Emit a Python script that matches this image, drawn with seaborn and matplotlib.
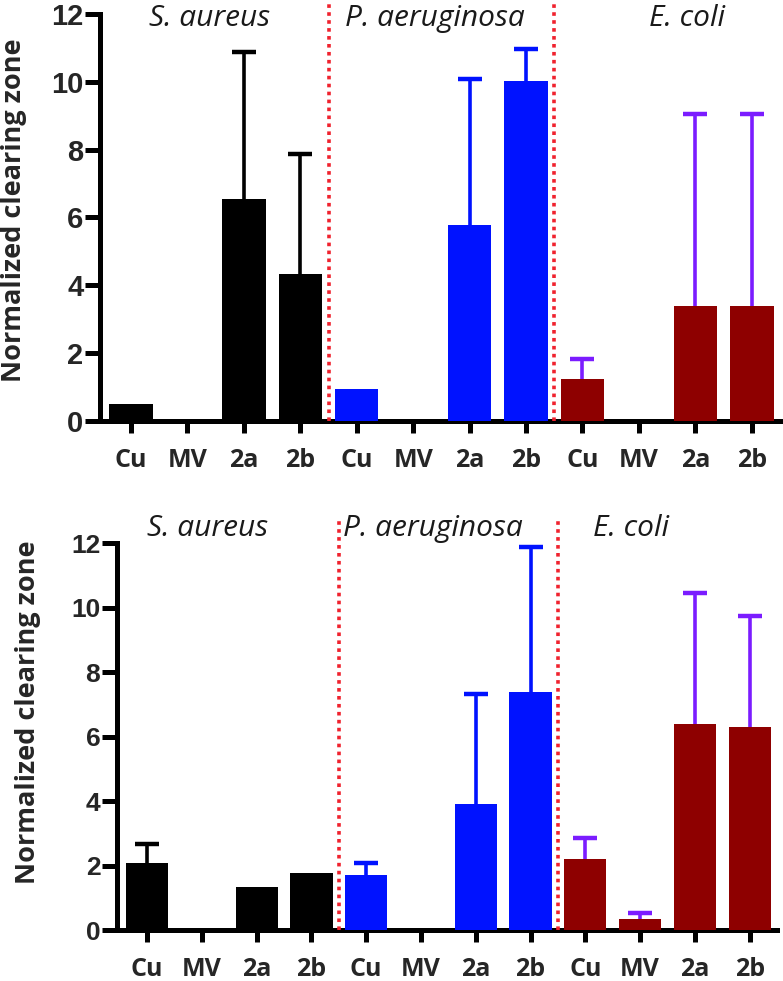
import numpy as np
import pandas as pd
import matplotlib
matplotlib.use("Agg")
import matplotlib.pyplot as plt
import seaborn as sns

# ---------------- data ----------------
species = ["S. aureus", "P. aeruginosa", "E. coli"]
compounds = ["Cu", "MV", "2a", "2b"]

top_values = [0.50, 0.0, 6.56, 4.32, 0.95, 0.0, 5.77, 10.03, 1.25, 0.0, 3.38, 3.38]
top_upper = [np.nan, np.nan, 10.88, 7.86, np.nan, np.nan, 10.09, 10.96, 1.84, np.nan, 9.06, 9.06]

bottom_values = [2.09, 0.0, 1.33, 1.76, 1.71, 0.0, 3.90, 7.40, 2.20, 0.34, 6.39, 6.31]
bottom_upper = [2.67, np.nan, np.nan, np.nan, 2.07, np.nan, 7.31, 11.88, 2.87, 0.52, 10.46, 9.75]

y_ticks = [0, 2, 4, 6, 8, 10, 12]
ylabel = "Normalized clearing zone"

bar_colors = {"S. aureus": "#000000", "P. aeruginosa": "#0012FF", "E. coli": "#8E0000"}
err_colors = {"S. aureus": "#000000", "P. aeruginosa": "#0012FF", "E. coli": "#7B1CFF"}

# ---------------- figure ----------------
sns.set_theme(style="ticks")
plt.rcParams["font.family"] = ["Liberation Sans", "DejaVu Sans"]

W, H = 783, 981
fig = plt.figure(figsize=(W / 100, H / 100), dpi=100)


def make_df(values, upper):
    rows = []
    i = 0
    for sp in species:
        for c in compounds:
            rows.append({"cat": f"{sp}|{c}", "species": sp, "compound": c,
                         "value": values[i], "upper": upper[i]})
            i += 1
    return pd.DataFrame(rows)


def draw_panel(ax, df, tick_fs, sep_top, label_y, label_xs, ylabel_xy):
    order = list(df["cat"])
    sns.barplot(data=df, x="cat", y="value", hue="species", order=order,
                hue_order=species, palette=bar_colors, dodge=False, width=0.77,
                saturation=1, legend=False, ax=ax, linewidth=0, zorder=3)
    pos = np.arange(len(order))
    for sp in species:
        m = (df["species"] == sp).values & ~np.isnan(df["upper"].values)
        if m.sum() == 0:
            continue
        v = df["value"].values[m]
        u = df["upper"].values[m]
        cont = ax.errorbar(pos[m], v, yerr=[np.zeros_like(v), u - v], fmt="none",
                           ecolor=err_colors[sp], elinewidth=2.6, capsize=8.5,
                           capthick=3.2, zorder=2)
        caplines = cont.lines[1]
        if len(caplines) == 2:
            caplines[0].set_visible(False)
    ax.set_xlim(-0.55, len(order) - 0.5)
    ax.set_ylim(0, 12)
    ax.set_yticks(y_ticks)
    ax.set_yticklabels([str(t) for t in y_ticks], fontsize=tick_fs,
                       fontweight="bold", family="Liberation Sans")
    ax.set_xticks(pos)
    ax.set_xticklabels(list(df["compound"]), fontsize=18, fontweight="bold",
                       family="Open Sans")
    ax.set_xlabel("")
    ax.set_ylabel("")
    for s in ["top", "right"]:
        ax.spines[s].set_visible(False)
    for s in ["left", "bottom"]:
        ax.spines[s].set_linewidth(3.6)
        ax.spines[s].set_color("black")
    ax.spines["left"].set_bounds(0, 12)
    ax.tick_params(axis="y", length=11, width=3.6, pad=1, color="black")
    ax.tick_params(axis="x", length=8.5, width=3.6, pad=11, color="black")
    # dotted separators between species groups
    for k in range(1, len(species)):
        xs = k * len(compounds) - 0.5
        ax.plot([xs, xs], [0, sep_top], color="#F0222E", lw=2.6,
                ls=(0, (1, 1.2)), clip_on=False, zorder=4)
    for sp, lx in zip(species, label_xs):
        ax.text(lx, label_y, sp, fontsize=21.5, fontstyle="italic",
                family="Open Sans", color="#1a1a1a", ha="center", va="center")
    fig.text(ylabel_xy[0] / W, 1 - ylabel_xy[1] / H, ylabel, rotation=90,
             fontsize=19.5, fontweight="bold", family="Open Sans",
             ha="center", va="center")
    ax.grid(False)


# top panel
ax1 = fig.add_axes([100 / W, 1 - 421 / H, 680 / W, (421 - 14) / H])
draw_panel(ax1, make_df(top_values, top_upper), 21, 12.41, 11.88,
           [1.4, 5.39, 9.85], (14, 210))

# bottom panel
ax2 = fig.add_axes([117 / W, 1 - 930 / H, 660 / W, (930 - 543.3) / H])
draw_panel(ax2, make_df(bottom_values, bottom_upper), 19, 12.83, 12.45,
           [1.11, 5.22, 8.83], (28, 712))

fig.savefig("out.png", dpi=100)
